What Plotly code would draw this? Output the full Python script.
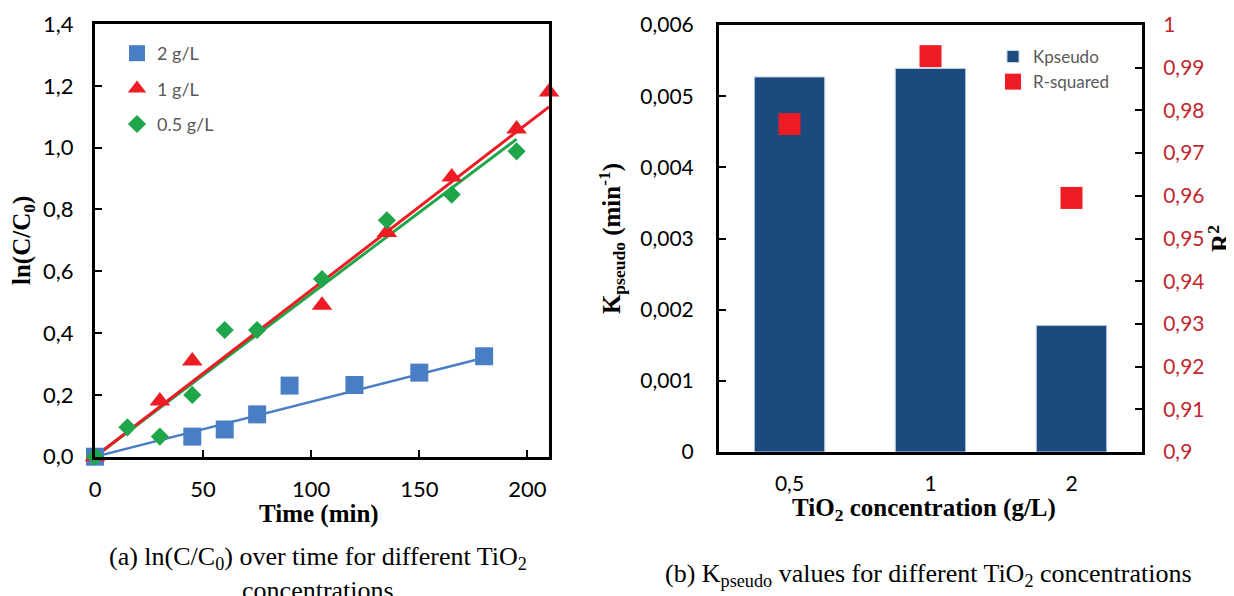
import plotly.graph_objects as go

# ---------------- data: panel (a) ----------------
t_2gL = [0, 45, 60, 75, 90, 120, 150, 180]
y_2gL = [0.0, 0.065, 0.088, 0.137, 0.23, 0.232, 0.272, 0.325]

t_1gL = [0, 30, 45, 105, 135, 165, 195, 210]
y_1gL = [0.0, 0.18, 0.31, 0.49, 0.725, 0.905, 1.06, 1.18]

t_05gL = [0, 15, 30, 45, 60, 75, 105, 135, 165, 195]
y_05gL = [0.0, 0.095, 0.065, 0.20, 0.41, 0.41, 0.575, 0.765, 0.848, 0.988]

# ---------------- data: panel (b) ----------------
conc_labels = ["0,5", "1", "2"]
k_pseudo = [0.00527, 0.00539, 0.00178]
r_squared = [0.9768, 0.9927, 0.9595]

# linear fits through origin use the Kpseudo slopes
fit_t_end = {"2": 180, "1": 210, "0.5": 195}
slope = {"0.5": k_pseudo[0], "1": k_pseudo[1], "2": k_pseudo[2]}

BLUE = "#4A7EC4"
RED = "#ED1C24"
GREEN = "#1FA64A"
BAR = "#1A4A7E"
RTICK = "#C4262E"
SANS = "Lato, 'Open Sans', sans-serif"
SERIF = "'Liberation Serif', 'Times New Roman', serif"

# page body has an 8px default margin: lay out in page pixels, convert to figure
OFF = 8
W, H = 1234 - OFF, 596 - OFF


def px(x):
    return (x - OFF) / W


def py(y):
    return 1 - (y - OFF) / H


fig = go.Figure()

# ---- panel (a) fit lines ----
for key, col, w in [("2", BLUE, 2.5), ("0.5", GREEN, 3), ("1", RED, 3)]:
    te = fit_t_end[key]
    fig.add_trace(go.Scatter(x=[0, te], y=[0, slope[key] * te], mode="lines",
                             line=dict(color=col, width=w), showlegend=False,
                             hoverinfo="skip", xaxis="x", yaxis="y"))

# ---- panel (a) markers ----
fig.add_trace(go.Scatter(x=t_2gL, y=y_2gL, mode="markers", name="2 g/L",
                         marker=dict(symbol="square", size=18, color=BLUE),
                         cliponaxis=False, legend="legend", legendgroup="a",
                         xaxis="x", yaxis="y"))
fig.add_trace(go.Scatter(x=t_1gL, y=y_1gL, mode="markers", name="1 g/L",
                         marker=dict(symbol="triangle-up", size=18, color=RED),
                         cliponaxis=False, legend="legend", legendgroup="b",
                         xaxis="x", yaxis="y"))
fig.add_trace(go.Scatter(x=t_05gL, y=y_05gL, mode="markers", name="0.5 g/L",
                         marker=dict(symbol="diamond", size=14, color=GREEN),
                         cliponaxis=False, legend="legend", legendgroup="c",
                         xaxis="x", yaxis="y"))

# ---- panel (b) ----
fig.add_trace(go.Bar(x=conc_labels, y=k_pseudo, name="Kpseudo", width=0.5,
                     marker=dict(color=BAR, line=dict(color="#C9D5E6", width=1)),
                     legend="legend2", xaxis="x2", yaxis="y2"))
fig.add_trace(go.Scatter(x=conc_labels, y=r_squared, mode="markers", name="R-squared",
                         marker=dict(symbol="square", size=22, color=RED),
                         legend="legend2", xaxis="x2", yaxis="y3", cliponaxis=False))

axis_common = dict(showline=True, linecolor="black", linewidth=3, showgrid=False,
                   zeroline=False, ticks="inside", tickcolor="black", tickwidth=2,
                   ticklen=7, automargin=False)
TFONT = dict(family=SERIF, size=25, color="black", weight="bold")
LFONT = dict(family=SANS, size=22, color="black")
RFONT = dict(family=SANS, size=21, color="black")

fig.update_layout(
    width=W, height=H,
    margin=dict(l=0, r=0, t=0, b=0, autoexpand=False),
    paper_bgcolor="white", plot_bgcolor="white",
    separators=", ",
    showlegend=True,
    xaxis=dict(**axis_common, domain=[px(95), px(549)], range=[0, 210],
               dtick=50, tick0=0, mirror=True, anchor="y", ticklabelstandoff=11,
               tickfont=LFONT),
    yaxis=dict(**axis_common, domain=[py(456.7), py(24)], range=[0, 1.4],
               dtick=0.2, tickformat=".1f", mirror=True, anchor="x", ticklabelstandoff=14,
               tickfont=LFONT,
               title=dict(text="ln(C/C<sub>0</sub>)", standoff=11, font=TFONT)),
    xaxis2=dict(showline=True, linecolor="black", linewidth=3, mirror=True, showgrid=False,
                zeroline=False, ticks="", type="category", anchor="y2", automargin=False,
                domain=[px(719), px(1142)], ticklabelstandoff=11,
                tickfont=RFONT),
    yaxis2=dict(**axis_common, domain=[py(452), py(25)], range=[0, 0.006],
                dtick=0.001, anchor="x2", ticklabelstandoff=18, tickfont=RFONT,
                title=dict(text="K<sub>pseudo</sub> (min<sup>-1</sup>)", standoff=13, font=TFONT)),
    yaxis3=dict(**axis_common, tickfont=dict(RFONT, color=RTICK),
                overlaying="y2", side="right", anchor="x2", range=[0.9, 1.0], dtick=0.01,
                ticklabelstandoff=14,
                title=dict(text="R<sup>2</sup>", standoff=8, font=TFONT)),
    legend=dict(x=px(117), y=py(35), xanchor="left", yanchor="top",
                bgcolor="rgba(0,0,0,0)", traceorder="grouped", tracegroupgap=9,
                font=dict(family=SANS, size=18, color="#595959"), itemwidth=30),
    legend2=dict(x=px(993), y=py(39), xanchor="left", yanchor="top",
                 bgcolor="rgba(0,0,0,0)", tracegroupgap=0,
                 font=dict(family=SANS, size=17, color="#595959"), itemwidth=30),
    annotations=[
        # x-axis titles
        dict(text="Time (min)", x=px(319), y=py(514), xref="paper", yref="paper",
             xanchor="center", yanchor="middle", showarrow=False,
             font=dict(TFONT, size=25)),
        dict(text="TiO<sub>2</sub> concentration (g/L)", x=px(924), y=py(510),
             xref="paper", yref="paper", xanchor="center", yanchor="middle",
             showarrow=False, font=TFONT),
        # captions
        dict(text="(a) ln(C/C<sub>0</sub>) over time for different TiO<sub>2</sub><br>concentrations",
             x=px(318), y=py(540), xref="paper", yref="paper",
             xanchor="center", yanchor="top", showarrow=False, align="center",
             font=dict(family=SERIF, size=26, color="black")),
        dict(text="(b) K<sub>pseudo</sub> values for different TiO<sub>2</sub> concentrations",
             x=px(928), y=py(575), xref="paper", yref="paper",
             xanchor="center", yanchor="middle", showarrow=False,
             font=dict(family=SERIF, size=26, color="black")),
    ],
)

fig.write_html("out.html")
